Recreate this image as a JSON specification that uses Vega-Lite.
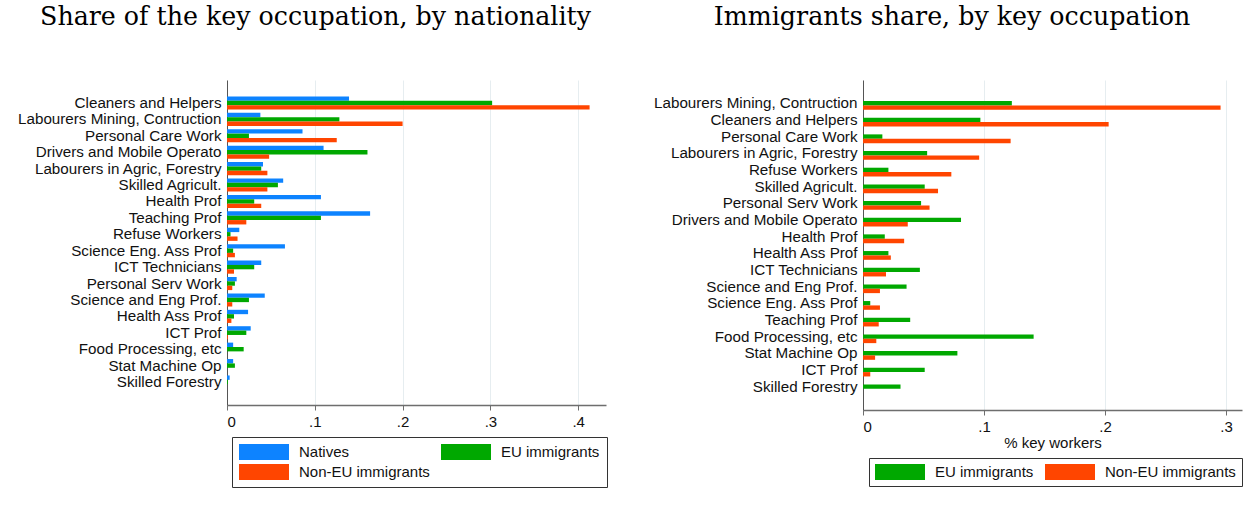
{
  "$schema": "https://vega.github.io/schema/vega-lite/v6.json",
  "background": "white",
  "padding": {"left": 17, "top": 4, "right": 6, "bottom": 4},
  "datasets": {
    "left": [
      {"occupation": "Cleaners and Helpers", "group": "Natives", "value": 0.139},
      {"occupation": "Cleaners and Helpers", "group": "EU immigrants", "value": 0.302},
      {"occupation": "Cleaners and Helpers", "group": "Non-EU immigrants", "value": 0.413},
      {"occupation": "Labourers Mining, Contruction", "group": "Natives", "value": 0.038},
      {"occupation": "Labourers Mining, Contruction", "group": "EU immigrants", "value": 0.128},
      {"occupation": "Labourers Mining, Contruction", "group": "Non-EU immigrants", "value": 0.200},
      {"occupation": "Personal Care Work", "group": "Natives", "value": 0.086},
      {"occupation": "Personal Care Work", "group": "EU immigrants", "value": 0.025},
      {"occupation": "Personal Care Work", "group": "Non-EU immigrants", "value": 0.125},
      {"occupation": "Drivers and Mobile Operato", "group": "Natives", "value": 0.110},
      {"occupation": "Drivers and Mobile Operato", "group": "EU immigrants", "value": 0.160},
      {"occupation": "Drivers and Mobile Operato", "group": "Non-EU immigrants", "value": 0.048},
      {"occupation": "Labourers in Agric, Forestry", "group": "Natives", "value": 0.041},
      {"occupation": "Labourers in Agric, Forestry", "group": "EU immigrants", "value": 0.039},
      {"occupation": "Labourers in Agric, Forestry", "group": "Non-EU immigrants", "value": 0.046},
      {"occupation": "Skilled Agricult.", "group": "Natives", "value": 0.064},
      {"occupation": "Skilled Agricult.", "group": "EU immigrants", "value": 0.058},
      {"occupation": "Skilled Agricult.", "group": "Non-EU immigrants", "value": 0.046},
      {"occupation": "Health Prof", "group": "Natives", "value": 0.107},
      {"occupation": "Health Prof", "group": "EU immigrants", "value": 0.031},
      {"occupation": "Health Prof", "group": "Non-EU immigrants", "value": 0.039},
      {"occupation": "Teaching Prof", "group": "Natives", "value": 0.163},
      {"occupation": "Teaching Prof", "group": "EU immigrants", "value": 0.107},
      {"occupation": "Teaching Prof", "group": "Non-EU immigrants", "value": 0.022},
      {"occupation": "Refuse Workers", "group": "Natives", "value": 0.014},
      {"occupation": "Refuse Workers", "group": "EU immigrants", "value": 0.004},
      {"occupation": "Refuse Workers", "group": "Non-EU immigrants", "value": 0.012},
      {"occupation": "Science Eng. Ass Prof", "group": "Natives", "value": 0.066},
      {"occupation": "Science Eng. Ass Prof", "group": "EU immigrants", "value": 0.007},
      {"occupation": "Science Eng. Ass Prof", "group": "Non-EU immigrants", "value": 0.009},
      {"occupation": "ICT Technicians", "group": "Natives", "value": 0.039},
      {"occupation": "ICT Technicians", "group": "EU immigrants", "value": 0.031},
      {"occupation": "ICT Technicians", "group": "Non-EU immigrants", "value": 0.008},
      {"occupation": "Personal Serv Work", "group": "Natives", "value": 0.011},
      {"occupation": "Personal Serv Work", "group": "EU immigrants", "value": 0.009},
      {"occupation": "Personal Serv Work", "group": "Non-EU immigrants", "value": 0.006},
      {"occupation": "Science and Eng Prof.", "group": "Natives", "value": 0.043},
      {"occupation": "Science and Eng Prof.", "group": "EU immigrants", "value": 0.025},
      {"occupation": "Science and Eng Prof.", "group": "Non-EU immigrants", "value": 0.006},
      {"occupation": "Health Ass Prof", "group": "Natives", "value": 0.024},
      {"occupation": "Health Ass Prof", "group": "EU immigrants", "value": 0.008},
      {"occupation": "Health Ass Prof", "group": "Non-EU immigrants", "value": 0.005},
      {"occupation": "ICT Prof", "group": "Natives", "value": 0.027},
      {"occupation": "ICT Prof", "group": "EU immigrants", "value": 0.022},
      {"occupation": "ICT Prof", "group": "Non-EU immigrants", "value": 0.001},
      {"occupation": "Food Processing, etc", "group": "Natives", "value": 0.007},
      {"occupation": "Food Processing, etc", "group": "EU immigrants", "value": 0.019},
      {"occupation": "Food Processing, etc", "group": "Non-EU immigrants", "value": 0.0},
      {"occupation": "Stat Machine Op", "group": "Natives", "value": 0.007},
      {"occupation": "Stat Machine Op", "group": "EU immigrants", "value": 0.009},
      {"occupation": "Stat Machine Op", "group": "Non-EU immigrants", "value": 0.0},
      {"occupation": "Skilled Forestry", "group": "Natives", "value": 0.003},
      {"occupation": "Skilled Forestry", "group": "EU immigrants", "value": 0.001},
      {"occupation": "Skilled Forestry", "group": "Non-EU immigrants", "value": 0.0}
    ],
    "right": [
      {"occupation": "Labourers Mining, Contruction", "group": "EU immigrants", "value": 0.123},
      {"occupation": "Labourers Mining, Contruction", "group": "Non-EU immigrants", "value": 0.2955},
      {"occupation": "Cleaners and Helpers", "group": "EU immigrants", "value": 0.097},
      {"occupation": "Cleaners and Helpers", "group": "Non-EU immigrants", "value": 0.203},
      {"occupation": "Personal Care Work", "group": "EU immigrants", "value": 0.016},
      {"occupation": "Personal Care Work", "group": "Non-EU immigrants", "value": 0.122},
      {"occupation": "Labourers in Agric, Forestry", "group": "EU immigrants", "value": 0.053},
      {"occupation": "Labourers in Agric, Forestry", "group": "Non-EU immigrants", "value": 0.096},
      {"occupation": "Refuse Workers", "group": "EU immigrants", "value": 0.021},
      {"occupation": "Refuse Workers", "group": "Non-EU immigrants", "value": 0.073},
      {"occupation": "Skilled Agricult.", "group": "EU immigrants", "value": 0.051},
      {"occupation": "Skilled Agricult.", "group": "Non-EU immigrants", "value": 0.062},
      {"occupation": "Personal Serv Work", "group": "EU immigrants", "value": 0.048},
      {"occupation": "Personal Serv Work", "group": "Non-EU immigrants", "value": 0.055},
      {"occupation": "Drivers and Mobile Operato", "group": "EU immigrants", "value": 0.081},
      {"occupation": "Drivers and Mobile Operato", "group": "Non-EU immigrants", "value": 0.037},
      {"occupation": "Health Prof", "group": "EU immigrants", "value": 0.018},
      {"occupation": "Health Prof", "group": "Non-EU immigrants", "value": 0.034},
      {"occupation": "Health Ass Prof", "group": "EU immigrants", "value": 0.021},
      {"occupation": "Health Ass Prof", "group": "Non-EU immigrants", "value": 0.023},
      {"occupation": "ICT Technicians", "group": "EU immigrants", "value": 0.047},
      {"occupation": "ICT Technicians", "group": "Non-EU immigrants", "value": 0.019},
      {"occupation": "Science and Eng Prof.", "group": "EU immigrants", "value": 0.036},
      {"occupation": "Science and Eng Prof.", "group": "Non-EU immigrants", "value": 0.014},
      {"occupation": "Science Eng. Ass Prof", "group": "EU immigrants", "value": 0.006},
      {"occupation": "Science Eng. Ass Prof", "group": "Non-EU immigrants", "value": 0.014},
      {"occupation": "Teaching Prof", "group": "EU immigrants", "value": 0.039},
      {"occupation": "Teaching Prof", "group": "Non-EU immigrants", "value": 0.013},
      {"occupation": "Food Processing, etc", "group": "EU immigrants", "value": 0.141},
      {"occupation": "Food Processing, etc", "group": "Non-EU immigrants", "value": 0.011},
      {"occupation": "Stat Machine Op", "group": "EU immigrants", "value": 0.078},
      {"occupation": "Stat Machine Op", "group": "Non-EU immigrants", "value": 0.010},
      {"occupation": "ICT Prof", "group": "EU immigrants", "value": 0.051},
      {"occupation": "ICT Prof", "group": "Non-EU immigrants", "value": 0.006},
      {"occupation": "Skilled Forestry", "group": "EU immigrants", "value": 0.031},
      {"occupation": "Skilled Forestry", "group": "Non-EU immigrants", "value": 0.0}
    ]
  },
  "spacing": 45,
  "resolve": {"scale": {"color": "independent", "x": "independent", "y": "independent"}, "legend": {"color": "independent"}},
  "hconcat": [
    {
      "title": {"text": "Share of the key occupation, by nationality", "frame": "bounds", "anchor": "middle", "offset": 50, "dx": 3},
      "data": {"name": "left"},
      "width": 379,
      "height": 325,
      "mark": {"type": "bar"},
      "encoding": {
        "y": {
          "field": "occupation", "type": "nominal",
          "sort": ["Cleaners and Helpers", "Labourers Mining, Contruction", "Personal Care Work", "Drivers and Mobile Operato", "Labourers in Agric, Forestry", "Skilled Agricult.", "Health Prof", "Teaching Prof", "Refuse Workers", "Science Eng. Ass Prof", "ICT Technicians", "Personal Serv Work", "Science and Eng Prof.", "Health Ass Prof", "ICT Prof", "Food Processing, etc", "Stat Machine Op", "Skilled Forestry"],
          "scale": {"paddingInner": 0.2, "paddingOuter": 1},
          "axis": {"title": null}
        },
        "yOffset": {"field": "group", "type": "nominal", "sort": ["Natives", "EU immigrants", "Non-EU immigrants"], "scale": {"paddingInner": 0, "paddingOuter": 0}},
        "x": {
          "field": "value", "type": "quantitative",
          "scale": {"domain": [0, 0.4317], "nice": false},
          "axis": {"title": null, "values": [0, 0.1, 0.2, 0.3, 0.4], "labelExpr": "datum.value === 0 ? '0' : substring(format(datum.value, '.1f'), 1)"}
        },
        "color": {
          "field": "group", "type": "nominal",
          "scale": {"domain": ["Natives", "EU immigrants", "Non-EU immigrants"], "range": ["#0d83ff", "#00a800", "#ff4500"]},
          "legend": {"title": null, "columns": 2, "orient": "none", "legendX": 5, "legendY": 357, "direction": "horizontal", "columnPadding": 11, "padding": 7}
        }
      }
    },
    {
      "title": {"text": "Immigrants share, by key occupation", "frame": "bounds", "anchor": "middle", "offset": 50, "dx": 4},
      "data": {"name": "right"},
      "width": 379,
      "height": 330,
      "mark": {"type": "bar"},
      "encoding": {
        "y": {
          "field": "occupation", "type": "nominal",
          "sort": ["Labourers Mining, Contruction", "Cleaners and Helpers", "Personal Care Work", "Labourers in Agric, Forestry", "Refuse Workers", "Skilled Agricult.", "Personal Serv Work", "Drivers and Mobile Operato", "Health Prof", "Health Ass Prof", "ICT Technicians", "Science and Eng Prof.", "Science Eng. Ass Prof", "Teaching Prof", "Food Processing, etc", "Stat Machine Op", "ICT Prof", "Skilled Forestry"],
          "scale": {"paddingInner": 0.2, "paddingOuter": 1},
          "axis": {"title": null}
        },
        "yOffset": {"field": "group", "type": "nominal", "sort": ["EU immigrants", "Non-EU immigrants"], "scale": {"paddingInner": 0, "paddingOuter": 0}},
        "x": {
          "field": "value", "type": "quantitative",
          "scale": {"domain": [0, 0.3132], "nice": false},
          "axis": {"title": "% key workers", "values": [0, 0.1, 0.2, 0.3], "labelExpr": "datum.value === 0 ? '0' : substring(format(datum.value, '.1f'), 1)"}
        },
        "color": {
          "field": "group", "type": "nominal",
          "scale": {"domain": ["EU immigrants", "Non-EU immigrants"], "range": ["#00a800", "#ff4500"]},
          "legend": {"title": null, "orient": "none", "legendX": 6, "legendY": 378, "direction": "horizontal", "columns": 2, "columnPadding": 11, "padding": 6}
        }
      }
    }
  ],
  "config": {
    "view": {"stroke": null},
    "font": "Liberation Sans",
    "title": {"font": "DejaVu Serif", "fontSize": 25.3, "fontWeight": "normal", "color": "#000000"},
    "axis": {"labelFont": "Liberation Sans", "labelFontSize": 15, "labelColor": "#111111", "titleFont": "Liberation Sans", "titleFontSize": 15, "titleFontWeight": "normal", "titleColor": "#111111", "domainColor": "#6e6e6e", "tickColor": "#6e6e6e", "gridColor": "#e6edf0"},
    "axisY": {"ticks": false, "labelPadding": 6, "grid": false, "labelLimit": 300, "domainColor": "#555555", "labelFontSize": 15.2},
    "axisX": {"grid": true, "tickSize": 5, "labelPadding": 4, "domainWidth": 1.5, "titlePadding": 1},
    "legend": {
      "labelFont": "Liberation Sans", "labelFontSize": 15, "labelColor": "#111111",
      "symbolType": "M-1,-1H5.25V1H-1Z", "symbolSize": 256, "symbolStrokeWidth": 0, "symbolOpacity": 1,
      "labelOffset": 44, "rowPadding": 4,
      "strokeColor": "#333333", "labelLimit": 300
    }
  }
}
